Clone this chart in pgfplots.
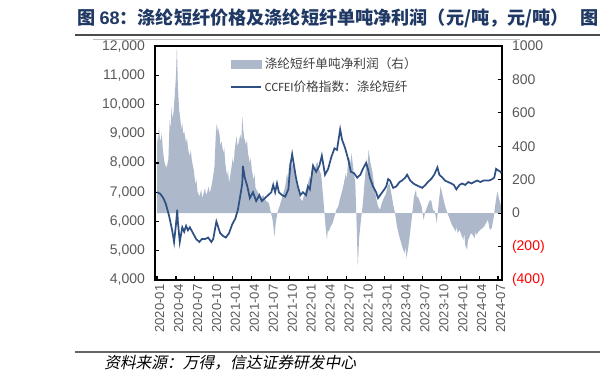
\documentclass[border=0pt]{standalone}
\usepackage{fontspec}
\setmainfont{Liberation Sans}
\newfontfamily\cjk{Noto Sans CJK SC}
\newfontfamily\cjkslant{Noto Sans CJK SC}[FakeSlant=0.2]
\newfontfamily\carlito{Carlito}
\usepackage{pgfplots}
\pgfplotsset{compat=1.18}
\definecolor{areacol}{HTML}{ADB9CA}
\definecolor{linecol}{HTML}{2F5083}
\definecolor{titlecol}{HTML}{1F3864}
\definecolor{tickgray}{HTML}{595959}
\begin{document}
\begin{tikzpicture}[x=0.75pt,y=0.75pt]
\useasboundingbox (0,0) rectangle (600,381);
% title
\node[anchor=west, inner sep=0, text=titlecol, font=\cjk\bfseries\fontsize{13.6}{15}\selectfont] at (77,363) {图 {\fontspec{Liberation Sans}\bfseries 68}：涤纶短纤价格及涤纶短纤单吨净利润（元/吨，元/吨）};
\node[anchor=east, inner sep=0, text=titlecol, font=\cjk\bfseries\fontsize{13.6}{15}\selectfont] at (599,363) {图};
\draw[line width=1.3pt, black!70] (75,346) -- (600,346);
\draw[line width=0.7pt, black!25] (93,342) -- (520,342);
\draw[line width=1pt, black!60] (75,29) -- (600,29);
\node[anchor=west, inner sep=0, font=\cjkslant\fontsize{11.8}{13}\selectfont] at (104,18) {资料来源：万得，信达证券研发中心};

% profit area (right axis)
\begin{axis}[
  at={(116.25pt,75.75pt)}, anchor=south west,
  width=260.25pt, height=175.5pt, scale only axis,
  xmin=-0.32, xmax=54.63, ymin=-400, ymax=1000,
  axis x line=none,
  axis y line*=right,
  axis line style={black, line width=1.1pt},
  ytick={-400,-200,0,200,400,600,800,1000},
  yticklabels={\textcolor{red}{(400)},\textcolor{red}{(200)},0,200,400,600,800,1000},
  yticklabel style={font=\fontsize{10.5}{12}\selectfont, text=tickgray, xshift=4pt},
  tick align=inside, major tick length=3pt,
  tick style={black, line width=0.8pt},
]
\addplot[fill=areacol, draw=none] coordinates {
(0.0,470) (0.15,410) (0.3,520) (0.45,450) (0.6,430) (0.75,480) (0.9,390) (1.05,340) (1.2,300) (1.5,270) (1.8,320) (2.0,560) (2.15,500) (2.3,640) (2.45,560) (2.6,600) (2.8,700) (3.0,820) (3.15,1000) (3.3,760) (3.5,620) (3.7,560) (3.85,500) (4.0,540) (4.15,470) (4.3,490) (4.6,420) (4.75,450) (4.9,390) (5.05,360) (5.2,340) (5.35,380) (5.5,320) (5.8,260) (6.1,170) (6.25,200) (6.4,130) (6.7,100) (7.0,140) (7.15,90) (7.3,110) (7.6,150) (7.75,110) (7.9,120) (8.2,160) (8.35,120) (8.5,140) (8.8,200) (9.1,280) (9.25,420) (9.4,540) (9.5,470) (9.6,520) (9.9,470) (10.05,400) (10.2,430) (10.5,360) (10.65,390) (10.8,300) (11.1,220) (11.25,260) (11.4,180) (11.7,250) (12.0,330) (12.15,290) (12.3,380) (12.6,460) (12.75,400) (12.9,420) (13.2,470) (13.35,430) (13.5,580) (13.65,500) (13.8,450) (14.1,410) (14.25,440) (14.4,360) (14.7,300) (14.85,330) (15.0,260) (15.3,200) (15.45,230) (15.6,150) (15.9,130) (16.2,110) (16.5,90) (16.8,110) (17.1,80) (17.4,70) (17.7,60) (18.0,10) (18.3,-40) (18.6,-140) (18.8,-60) (19.1,10) (19.4,40) (19.7,80) (20.0,120) (20.3,160) (20.6,240) (20.75,200) (20.9,290) (21.2,320) (21.35,270) (21.5,300) (21.8,240) (22.1,170) (22.4,130) (22.7,90) (23.0,70) (23.3,110) (23.6,140) (23.9,180) (24.2,220) (24.35,190) (24.5,260) (24.8,300) (24.95,250) (25.1,280) (25.4,310) (25.55,270) (25.7,260) (26.0,230) (26.3,100) (26.6,-40) (26.9,-160) (27.05,-100) (27.2,-110) (27.5,-80) (27.8,-60) (28.1,-20) (28.4,20) (28.7,40) (29.0,90) (29.3,130) (29.6,180) (29.9,240) (30.05,200) (30.2,280) (30.5,330) (30.65,290) (30.8,360) (31.1,260) (31.4,180) (31.6,-60) (31.8,-320) (32.0,-150) (32.3,-40) (32.6,60) (32.9,200) (33.2,330) (33.35,280) (33.5,380) (33.8,300) (34.1,250) (34.4,160) (34.7,90) (35.0,40) (35.3,20) (35.6,60) (35.9,90) (36.2,110) (36.5,160) (36.8,180) (37.1,120) (37.4,50) (37.7,0) (38.0,-80) (38.3,-130) (38.6,-170) (38.9,-210) (39.2,-240) (39.35,-200) (39.5,-270) (39.8,-200) (40.1,-110) (40.4,-10) (40.7,100) (41.0,140) (41.15,90) (41.3,100) (41.6,70) (41.9,40) (42.2,-40) (42.5,10) (42.8,40) (43.1,70) (43.4,80) (43.7,20) (44.0,10) (44.3,-60) (44.6,60) (44.9,160) (45.2,110) (45.5,60) (45.8,20) (46.1,-10) (46.4,-40) (46.7,-70) (47.0,-90) (47.3,-110) (47.45,-80) (47.6,-120) (47.9,-100) (48.2,-130) (48.5,-160) (48.65,-120) (48.8,-190) (49.1,-220) (49.25,-160) (49.4,-150) (49.7,-120) (50.0,-130) (50.3,-150) (50.45,-110) (50.6,-130) (50.9,-110) (51.2,-100) (51.5,-90) (51.8,-80) (52.1,-60) (52.4,-40) (52.7,-100) (53.0,-90) (53.3,-30) (53.6,60) (53.9,130) (54.2,80) (54.5,40)
} \closedcycle;
\end{axis}

% price line (left axis)
\begin{axis}[
  at={(116.25pt,75.75pt)}, anchor=south west,
  width=260.25pt, height=175.5pt, scale only axis,
  xmin=-0.32, xmax=54.63, ymin=4000, ymax=12000,
  scaled y ticks=false, scaled x ticks=false,
  axis line style={black, line width=1.1pt},
  ytick pos=left, xtick pos=bottom,
  ytick={4000,5000,...,12000},
  yticklabels={4{,}000,5{,}000,6{,}000,7{,}000,8{,}000,9{,}000,10{,}000,11{,}000,12{,}000},
  yticklabel style={font=\fontsize{10.5}{12}\selectfont, text=tickgray, xshift=-4pt},
  xtick={0,3,...,54},
  xticklabels={2020-01,2020-04,2020-07,2020-10,2021-01,2021-04,2021-07,2021-10,2022-01,2022-04,2022-07,2022-10,2023-01,2023-04,2023-07,2023-10,2024-01,2024-04,2024-07},
  xticklabel style={rotate=90, anchor=east, font=\fontsize{9.8}{11}\selectfont, text=tickgray, yshift=-2pt},
  tick align=inside, major tick length=3pt,
  tick style={black, line width=0.8pt},
  legend style={at={(0.205,0.975)}, anchor=north west, draw=none, fill=none,
    font=\fontsize{9.5}{11}\selectfont, text=black!75, row sep=4pt,
    /tikz/every even column/.append style={column sep=0pt}},
  legend cell align=left,
]
\addlegendimage{legend image code/.code={\fill[areacol] (0pt,-3pt) rectangle (22.5pt,3pt);}}
\addlegendentry{\cjk 涤纶短纤单吨净利润（右）}
\addlegendimage{legend image code/.code={\draw[linecol, line width=1.3pt] (0pt,0pt) -- (22.5pt,0pt);}}
\addlegendentry{\carlito CCFEI\cjk 价格指数：涤纶短纤}
\addplot[linecol, line width=1.3pt, forget plot] coordinates {
(0,7000) (0.5,6950) (1.0,6800) (1.4,6600) (1.9,6200) (2.4,5700) (2.7,5300) (3.0,5900) (3.2,6400) (3.3,6000) (3.6,5300) (4.0,5800) (4.3,5650) (4.6,5850) (4.9,5700) (5.2,5800) (5.7,5600) (6.2,5400) (6.7,5300) (7.1,5400) (7.6,5400) (8.1,5450) (8.6,5300) (8.9,5400) (9.4,6000) (9.7,5800) (10.0,5600) (10.5,5500) (10.9,5450) (11.4,5600) (11.9,5900) (12.4,6100) (12.8,6400) (13.2,6900) (13.5,7300) (13.6,7900) (13.9,7500) (14.3,7200) (14.7,6800) (15.2,7000) (15.7,6700) (16.2,6900) (16.6,6700) (17.1,6800) (17.6,6900) (18.1,7000) (18.4,7250) (18.7,7000) (19.0,7300) (19.3,7000) (19.8,6900) (20.3,6850) (20.8,7100) (21.1,7900) (21.4,8300) (21.7,7900) (22.0,7500) (22.3,7200) (22.7,6900) (23.1,7000) (23.6,6900) (23.9,7200) (24.2,7100) (24.7,7900) (25.2,7700) (25.7,7900) (26.1,8250) (26.6,7600) (27.1,7800) (27.6,8200) (28.1,8500) (28.5,8450) (29.0,9150) (29.3,8800) (29.8,8500) (30.3,8100) (30.7,7700) (31.2,7650) (31.7,7500) (32.2,7600) (32.6,7800) (33.1,8000) (33.4,7800) (33.7,7500) (34.2,7200) (34.7,7000) (35.0,6800) (35.5,6950) (36.0,7100) (36.3,7200) (36.6,7450) (36.9,7400) (37.4,7150) (37.9,7200) (38.4,7350) (38.8,7400) (39.3,7500) (39.6,7600) (40.1,7400) (40.6,7300) (41.0,7250) (41.5,7200) (42.0,7150) (42.5,7250) (42.9,7350) (43.4,7450) (43.9,7600) (44.2,7750) (44.4,7850) (44.7,7600) (45.2,7500) (45.6,7400) (46.1,7350) (46.6,7300) (47.0,7250) (47.4,7100) (47.9,7250) (48.3,7300) (48.8,7250) (49.3,7350) (49.8,7300) (50.2,7350) (50.7,7400) (51.2,7350) (51.7,7400) (52.1,7400) (52.6,7400) (53.1,7450) (53.4,7500) (53.7,7800) (54.0,7750) (54.4,7700) (54.5,7650)
};
\end{axis}
\end{tikzpicture}
\end{document}
